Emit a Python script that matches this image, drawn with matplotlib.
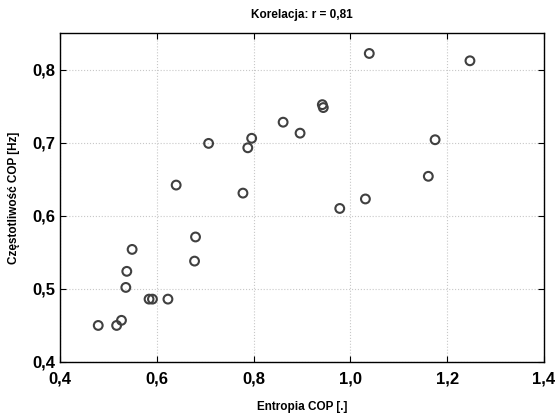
import matplotlib
matplotlib.use("Agg")
import matplotlib.pyplot as plt
from matplotlib.ticker import FuncFormatter, MultipleLocator

plt.rcParams['font.family'] = ['Liberation Sans', 'DejaVu Sans']

# Entropia COP vs Czestotliwosc COP
entropia = [1.039, 1.247, 0.942, 0.944, 0.861, 0.896, 0.707, 0.796, 0.788,
            1.175, 0.640, 0.778, 1.161, 0.978, 1.031, 0.680, 0.549, 0.678,
            0.538, 0.536, 0.584, 0.591, 0.623, 0.479, 0.517, 0.527]
czestotliwosc = [0.822, 0.812, 0.752, 0.748, 0.728, 0.713, 0.699, 0.706, 0.693,
                 0.704, 0.642, 0.631, 0.654, 0.610, 0.623, 0.571, 0.554, 0.538,
                 0.524, 0.502, 0.486, 0.486, 0.486, 0.450, 0.450, 0.457]

fig = plt.figure(figsize=(5.55, 4.13), dpi=100)
ax = fig.add_axes([60 / 555, 1 - 362 / 413, 484 / 555, 329 / 413])

ax.scatter(entropia, czestotliwosc, s=40, facecolors='none',
           edgecolors='#404040', linewidths=1.5, zorder=3)

ax.set_xlim(0.4, 1.4)
ax.set_ylim(0.4, 0.85)
ax.xaxis.set_major_locator(MultipleLocator(0.2))
ax.yaxis.set_major_locator(MultipleLocator(0.1))
comma = FuncFormatter(lambda v, p: f"{v:.1f}".replace('.', ','))
ax.xaxis.set_major_formatter(comma)
ax.yaxis.set_major_formatter(comma)

ax.grid(True, color='#c8c8c8', linestyle=':', linewidth=0.8)
ax.tick_params(direction='in', top=True, right=True, length=4,
               labelsize=12)
ax.tick_params(axis='x', pad=7)
ax.tick_params(axis='y', pad=3)
for lab in ax.get_xticklabels() + ax.get_yticklabels():
    lab.set_fontweight('bold')
for s in ax.spines.values():
    s.set_linewidth(1.0)
    s.set_color('black')

ax.set_title("Korelacja: r = 0,81", fontsize=8.5, fontweight='bold', pad=11)
ax.set_xlabel("Entropia COP [.]", fontsize=8.5, fontweight='bold', labelpad=10)
ax.set_ylabel("Częstotliwość COP [Hz]", fontsize=8.5, fontweight='bold',
              labelpad=9)

fig.savefig("out.png", dpi=100)
